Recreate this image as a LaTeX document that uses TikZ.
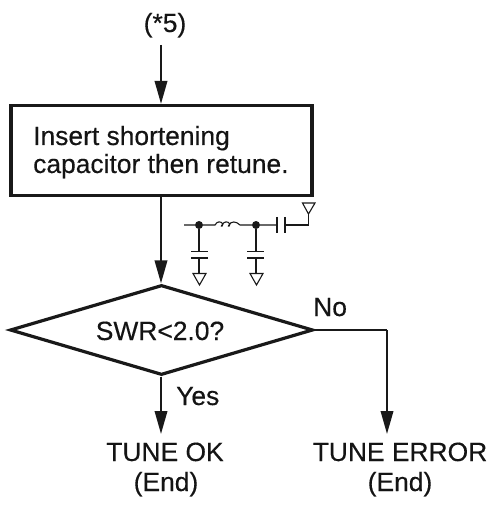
\documentclass[tikz,border=0pt]{standalone}
\usepackage{fontspec}
\setmainfont{Liberation Sans}
\newfontfamily\lblfont[FakeBold=0.35]{Liberation Sans}
\usetikzlibrary{arrows.meta,calc,shapes.geometric}
\tikzset{
  x=1pt,y=-1pt,
  lbl/.style={inner sep=0pt,font=\lblfont\fontsize{26.4}{28}\selectfont,text=black!92},
  flow/.style={line width=2pt,draw=black!90,-{Triangle[length=23pt,width=12.5pt]}},
  flowline/.style={line width=2pt,draw=black!90},
  boxst/.style={draw=black!90,line width=3.2pt,minimum width=301pt,minimum height=90pt,inner sep=0pt},
  decst/.style={draw=black!90,line width=3.2pt,line join=miter,diamond,aspect=3.3,inner sep=0pt,minimum width=303pt,minimum height=90pt},
  wire/.style={line width=1.1pt,draw=black!90},
  plate/.style={line width=1.5pt,draw=black!90},
  dotst/.style={circle,fill=black!90,inner sep=0pt,minimum size=8pt},
  gnd/.style={line width=1.1pt,draw=black!90,fill=white,line join=miter}
}
\begin{document}
\begin{tikzpicture}
\useasboundingbox (0,0) rectangle (493,518);
% main flow
\node[lbl,anchor=base] (start) at (165,32) {(*5)};
\coordinate (startend) at (161,45);
\node[boxst] (box) at (161.5,150.5) {};
\node[lbl,anchor=base west] (t1) at (33,145) {Insert shortening};
\node[lbl,anchor=base west] (t2) at (33,173) {capacitor then retune.};
\node[decst] (dec) at (161.5,330) {};
\node[lbl,anchor=base] (q) at (160,340) {SWR<2.0?};
\node[lbl,anchor=base west] (no) at (313,316) {No};
\node[lbl,anchor=base west] (yes) at (176,405) {Yes};
\node[lbl,anchor=base] (ok) at (165,461) {TUNE OK};
\node[lbl,anchor=base] (okend) at (166,491) {(End)};
\node[lbl,anchor=base] (err) at (400,461) {TUNE ERROR};
\node[lbl,anchor=base] (errend) at (400,491) {(End)};
\coordinate (okin) at (161,434);
\coordinate (errin) at (387,434);
\coordinate (errcorner) at (387,330);
\draw[flow] (startend) -- (startend |- box.north);
\draw[flow] (startend |- box.south) -- (startend |- dec.north);
\draw[flow] (startend |- dec.south) -- (okin);
\draw[flowline] (dec.east) -- (errcorner);
\draw[flow] (errcorner) -- (errin);
% circuit
\coordinate (w0) at (184,225);
\node[dotst] (d1) at (199,225) {};
\node[dotst] (d2) at (256,225) {};
\coordinate (c3a) at (277,225);
\coordinate (c3b) at (285,225);
\coordinate (ant) at (308.5,225);
\draw[wire] (w0) -- (d1) -- (215,225)
  .. controls (217,221) and (221,221) .. (223,224)
  .. controls (224,226) and (220,227) .. (222,225)
  .. controls (224,221) and (228,221) .. (230,224)
  .. controls (231,226) and (227,227) .. (229,225)
  .. controls (231,221) and (236,221) .. (240,225)
  -- (d2) -- (c3a);
\draw[wire] (c3b) -- (ant) -- (308.5,207);
\draw[plate] (277,217) -- (277,233);
\draw[plate] (285,217) -- (285,233);
\draw[gnd] (302.5,203) -- (315,203) -- (308.5,214) -- cycle;
\draw[wire] (d1) -- (199,251.5);
\draw[wire] (199,258) -- (199,273);
\draw[plate] (191,251.5) -- (208,251.5);
\draw[plate] (191,258) -- (208,258);
\draw[gnd] (193,273.5) -- (206,273.5) -- (199.5,285) -- cycle;
\draw[wire] (d2) -- (256,251.5);
\draw[wire] (256,258) -- (256,273);
\draw[plate] (247,251.5) -- (264,251.5);
\draw[plate] (247,258) -- (264,258);
\draw[gnd] (250,273.5) -- (263,273.5) -- (256.5,285) -- cycle;
\end{tikzpicture}
\end{document}
